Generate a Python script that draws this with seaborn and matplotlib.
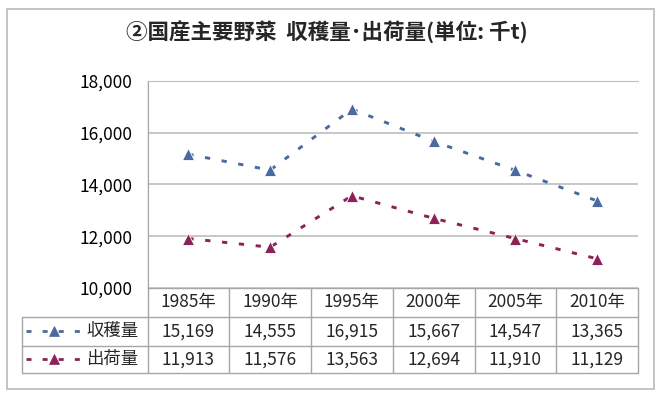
import matplotlib
matplotlib.use("Agg")
import matplotlib.pyplot as plt
from matplotlib.patches import Rectangle
from matplotlib.ticker import FuncFormatter
import seaborn as sns
import pandas as pd

# data
years = ["1985年", "1990年", "1995年", "2000年", "2005年", "2010年"]
harvest = [15169, 14555, 16915, 15667, 14547, 13365]
shipment = [11913, 11576, 13563, 12694, 11910, 11129]
series_names = ["収穫量", "出荷量"]
y_ticks = [10000, 12000, 14000, 16000, 18000]
title = "②国産主要野菜  収穫量･出荷量(単位: 千t)"

colors = ["#4A6AA0", "#8C2257"]
grid_c = "#BEBEBE"
table_c = "#A6A6A6"
dash = (1.8, 4.0)

# layout in pixels
W, H = 660, 398
left, right, top, bottom = 147.5, 638, 81, 288
row_y = [288, 317, 345.5, 373]
tbl_left = 22
col_w = (right - left) / len(years)

sns.set_style("white")
plt.rcParams["font.family"] = ["Noto Sans CJK JP", "DejaVu Sans"]

df = pd.DataFrame({
    "year": years * 2,
    "value": harvest + shipment,
    "series": [series_names[0]] * len(years) + [series_names[1]] * len(years),
})

fig = plt.figure(figsize=(6.6, 3.98), dpi=100)
fig.patch.set_facecolor("white")

ax = fig.add_axes([left / W, 1 - bottom / H, (right - left) / W, (bottom - top) / H])
sns.lineplot(data=df, x="year", y="value", hue="series", palette=colors,
             marker="^", markersize=8, markeredgewidth=0.6, linewidth=2.1,
             sort=False, legend=False, ax=ax)
for line in ax.lines:
    line.set_dashes(dash)
    line.set_clip_on(False)

ax.set_xlim(-0.5, len(years) - 0.5)
ax.set_ylim(y_ticks[0], y_ticks[-1])
ax.set_yticks(y_ticks)
ax.yaxis.set_major_formatter(FuncFormatter(lambda v, p: f"{int(v):,}"))
ax.set_xticks([])
ax.set_xlabel("")
ax.set_ylabel("")
ax.tick_params(axis="y", length=0, pad=11, labelsize=12.5, labelcolor="black")
ax.yaxis.grid(True, color=grid_c, linewidth=1.2)
ax.set_axisbelow(True)
for s in ["right", "bottom"]:
    ax.spines[s].set_visible(False)
ax.spines["top"].set_color(grid_c)
ax.spines["left"].set_color(table_c)

# overlay for title, data table and frame
ov = fig.add_axes([0, 0, 1, 1], zorder=-1)
ov.set_xlim(0, W)
ov.set_ylim(H, 0)
ov.axis("off")

ov.add_patch(Rectangle((6.5, 9), 647, 380, fill=False, ec="#BFBFBF", lw=1.3))
ov.text(327, 32, title, ha="center", va="center", fontsize=15.5, fontweight="bold")

lk = dict(color=table_c, lw=1)
ov.plot([left, right], [row_y[0]] * 2, **lk)
for y in row_y[1:]:
    ov.plot([tbl_left, right], [y, y], **lk)
ov.plot([tbl_left, tbl_left], [row_y[1], row_y[3]], **lk)
ov.plot([left, left], [top, row_y[3]], **lk)
for k in range(1, len(years) + 1):
    x = left + k * col_w
    ov.plot([x, x], [row_y[0], row_y[3]], **lk)

for i, yr in enumerate(years):
    cx = left + (i + 0.5) * col_w
    ov.text(cx, (row_y[0] + row_y[1]) / 2, yr, ha="center", va="center", fontsize=12.5)
    for r, vals in enumerate([harvest, shipment]):
        ov.text(cx, (row_y[r + 1] + row_y[r + 2]) / 2, f"{vals[i]:,}",
                ha="center", va="center", fontsize=12.5)

for r, (name, c) in enumerate(zip(series_names, colors)):
    cy = (row_y[r + 1] + row_y[r + 2]) / 2
    key, = ov.plot([26, 83], [cy, cy], color=c, lw=2)
    key.set_dashes(dash)
    ov.plot([54], [cy], marker="^", color=c, markersize=6.5, markeredgewidth=0.5)
    ov.text(86, cy, name, ha="left", va="center", fontsize=12.5)

fig.savefig("out.png", dpi=100, facecolor="white")
